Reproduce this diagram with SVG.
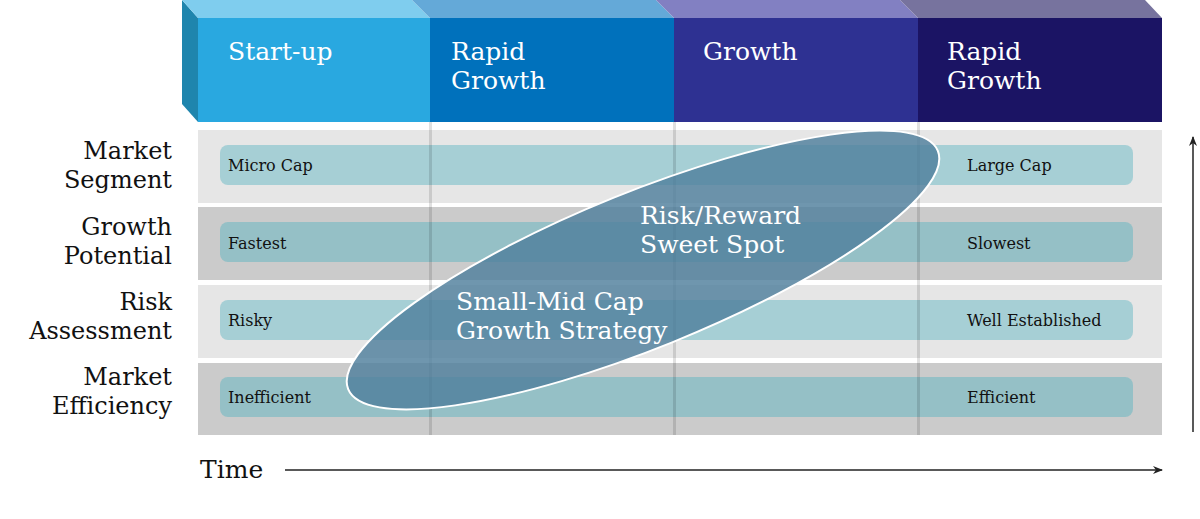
<svg xmlns="http://www.w3.org/2000/svg" width="1200" height="519" viewBox="0 0 1200 519">
<style>
.hd{font-family:"DejaVu Serif",serif;font-size:25px;fill:#fff}
.rl{font-family:"DejaVu Serif",serif;font-size:24px;fill:#111;text-anchor:end}
.pt{font-family:"DejaVu Serif",serif;font-size:16px;fill:#111}
.et{font-family:"DejaVu Serif",serif;font-size:25px;fill:#fff}
.pl{fill:#a6cfd5}.pd{fill:#95c0c6}
.div{fill:#000;opacity:0.12}
</style>
<defs>
<marker id="ar" viewBox="0 0 10 10" refX="9" refY="5" markerWidth="10" markerHeight="10" orient="auto-start-reverse" markerUnits="userSpaceOnUse"><path d="M0,1 L10,5 L0,9 L3,5 Z" fill="#222"/></marker>
</defs>
<rect width="1200" height="519" fill="#fff"/>
<g id="header">
<polygon points="182,0 198,18 198,122 182,104" fill="#1f85ad"/>
<polygon points="182,0 412,0 430,18 198,18" fill="#7fcdee"/>
<polygon points="412,0 656,0 674,18 430,18" fill="#64a9d8"/>
<polygon points="656,0 900,0 918,18 674,18" fill="#8280c2"/>
<polygon points="900,0 1145,0 1162,18 918,18" fill="#77739e"/>
<rect x="198" y="18" width="232" height="104" fill="#29a8e0"/>
<rect x="430" y="18" width="244" height="104" fill="#0071bc"/>
<rect x="674" y="18" width="244" height="104" fill="#2e3192"/>
<rect x="918" y="18" width="244" height="104" fill="#1b1464"/>
<text class="hd" x="228" y="60">Start-up</text>
<text class="hd" x="451" y="60">Rapid</text><text class="hd" x="451" y="89">Growth</text>
<text class="hd" x="703" y="60">Growth</text>
<text class="hd" x="947" y="60">Rapid</text><text class="hd" x="947" y="89">Growth</text>
</g>
<g id="rows">
<rect x="198" y="130" width="964" height="73" fill="#e6e6e6"/>
<rect x="198" y="207" width="964" height="73" fill="#cbcbcb"/>
<rect x="198" y="285" width="964" height="73" fill="#e6e6e6"/>
<rect x="198" y="363" width="964" height="72" fill="#cbcbcb"/>
<rect class="pl" x="220" y="145" width="913" height="40" rx="8"/>
<rect class="pd" x="220" y="222" width="913" height="40" rx="8"/>
<rect class="pl" x="220" y="300" width="913" height="40" rx="8"/>
<rect class="pd" x="220" y="377" width="913" height="40" rx="8"/>
<rect class="div" x="429" y="122" width="3" height="313"/>
<rect class="div" x="673" y="122" width="3" height="313"/>
<rect class="div" x="917" y="122" width="3" height="313"/>
<text class="pt" x="228" y="171">Micro Cap</text><text class="pt" x="967" y="171">Large Cap</text>
<text class="pt" x="228" y="249">Fastest</text><text class="pt" x="967" y="249">Slowest</text>
<text class="pt" x="228" y="326">Risky</text><text class="pt" x="967" y="326">Well Established</text>
<text class="pt" x="228" y="403">Inefficient</text><text class="pt" x="967" y="403">Efficient</text>
</g>
<g id="labels">
<text class="rl" x="172" y="159">Market</text><text class="rl" x="172" y="188">Segment</text>
<text class="rl" x="172" y="235">Growth</text><text class="rl" x="172" y="264">Potential</text>
<text class="rl" x="172" y="310">Risk</text><text class="rl" x="172" y="339">Assessment</text>
<text class="rl" x="172" y="385">Market</text><text class="rl" x="172" y="414">Efficiency</text>
</g>
<g id="sweetspot">
<ellipse cx="643" cy="270" rx="318" ry="78" transform="rotate(-22 643 270)" fill="#4f7f9c" fill-opacity="0.82" stroke="#fff" stroke-width="2"/>
<text class="et" x="640" y="224">Risk/Reward</text><text class="et" x="640" y="253">Sweet Spot</text>
<text class="et" x="456" y="310">Small-Mid Cap</text><text class="et" x="456" y="339">Growth Strategy</text>
</g>
<g id="connectors" stroke="#222" stroke-width="1.5" fill="none">
<line x1="1193" y1="432" x2="1193" y2="137" marker-end="url(#ar)"/>
<line x1="285" y1="470" x2="1162" y2="470" marker-end="url(#ar)"/>
</g>
<text x="200" y="478" style="font-family:'DejaVu Serif',serif;font-size:25px;fill:#111">Time</text>
</svg>
